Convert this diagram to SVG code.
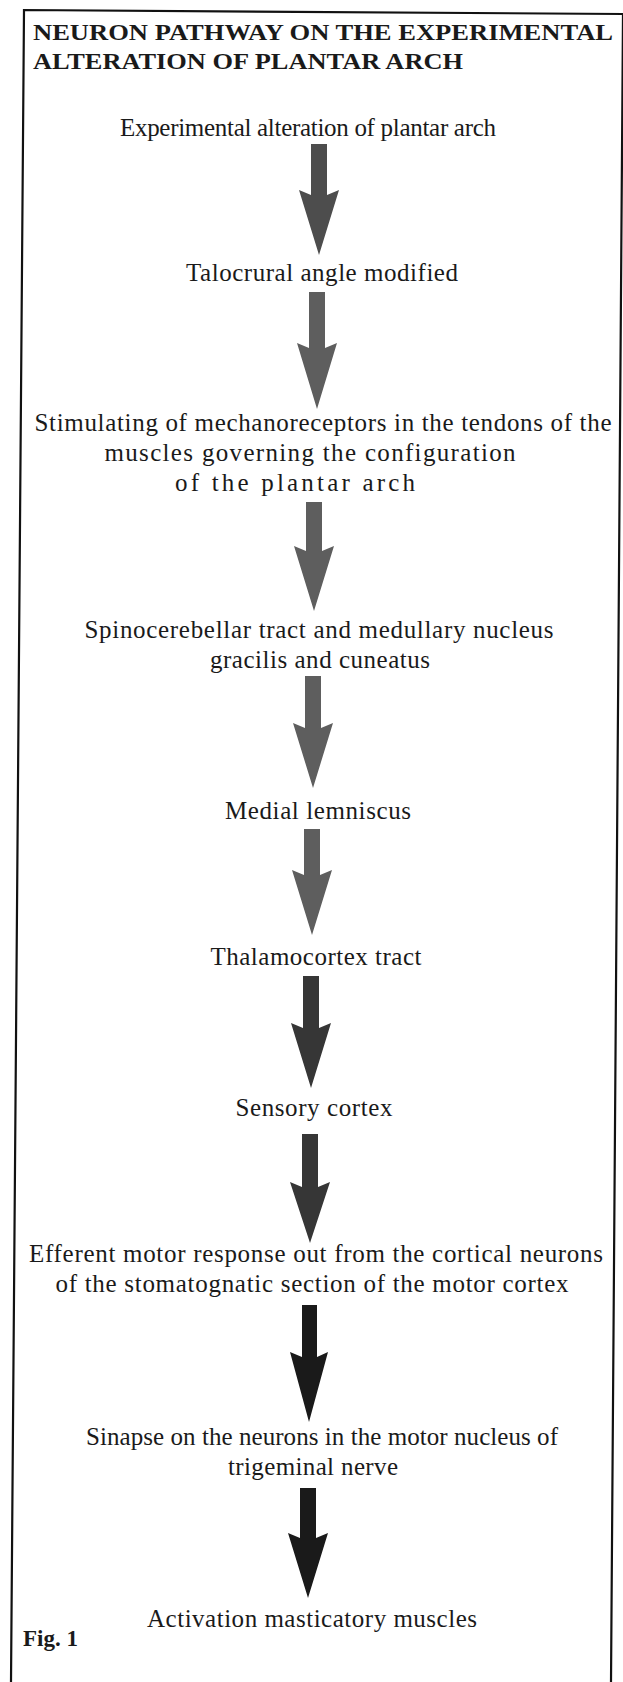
<svg xmlns="http://www.w3.org/2000/svg" width="623" height="1682" viewBox="0 0 623 1682">
<style>
.t{font-family:"Liberation Serif","Times New Roman",serif;font-size:25px;fill:#1a1a1a;text-anchor:middle}
.h{font-family:"Liberation Serif","Times New Roman",serif;font-size:23px;font-weight:bold;fill:#1a1a1a}
.a1{fill:#4d4d4d}
.a2{fill:#5e5e5e}
.a3{fill:#363636}
.a4{fill:#1a1a1a}
</style>
<rect width="623" height="1682" fill="#fff"/>
<path d="M11,1682 L24,10 L623,14 M611,1682 L623,14" fill="none" stroke="#111" stroke-width="2.2"/>
<g id="title">
<text class="h" x="33" y="40" textLength="580" lengthAdjust="spacingAndGlyphs">NEURON PATHWAY ON THE EXPERIMENTAL</text>
<text class="h" x="33" y="69" textLength="430" lengthAdjust="spacingAndGlyphs">ALTERATION OF PLANTAR ARCH</text>
</g>
<g id="n1"><text class="t" x="308" y="136" textLength="376">Experimental alteration of plantar arch</text></g>
<g id="n2"><text class="t" x="322" y="281" textLength="272">Talocrural angle modified</text></g>
<g id="n3">
<text class="t" x="323" y="431" textLength="577">Stimulating of mechanoreceptors in the tendons of the</text>
<text class="t" x="310" y="461" textLength="411">muscles governing the configuration</text>
<text class="t" x="295" y="491" textLength="240">of the plantar arch</text>
</g>
<g id="n4">
<text class="t" x="319" y="638" textLength="469">Spinocerebellar tract and medullary nucleus</text>
<text class="t" x="320" y="668" textLength="220">gracilis and cuneatus</text>
</g>
<g id="n5"><text class="t" x="318" y="819" textLength="186">Medial lemniscus</text></g>
<g id="n6"><text class="t" x="316" y="965" textLength="211">Thalamocortex tract</text></g>
<g id="n7"><text class="t" x="314" y="1116" textLength="157">Sensory cortex</text></g>
<g id="n8">
<text class="t" x="316" y="1262" textLength="574">Efferent motor response out from the cortical neurons</text>
<text class="t" x="312" y="1292" textLength="513">of the stomatognatic section of the motor cortex</text>
</g>
<g id="n9">
<text class="t" x="322" y="1445" textLength="472">Sinapse on the neurons in the motor nucleus of</text>
<text class="t" x="313" y="1475" textLength="170">trigeminal nerve</text>
</g>
<g id="n10"><text class="t" x="312" y="1627" textLength="330">Activation masticatory muscles</text></g>
<g id="fig"><text class="h" x="23" y="1646" style="font-size:23px">Fig. 1</text></g>
<g id="connectors">
<path class="a1" d="M311,144 H327 V195 L339,190 L319,255 L299,190 L311,195 Z"/>
<path class="a2" d="M309,292 H325 V348 L337,343 L317,409 L297,343 L309,348 Z"/>
<path class="a2" d="M306,502 H322 V551 L334,546 L314,611 L294,546 L306,551 Z"/>
<path class="a2" d="M305,676 H321 V728 L333,723 L313,788 L293,723 L305,728 Z"/>
<path class="a2" d="M304,829 H320 V875 L332,870 L312,935 L292,870 L304,875 Z"/>
<path class="a3" d="M303,976 H319 V1028 L331,1023 L311,1088 L291,1023 L303,1028 Z"/>
<path class="a3" d="M302,1134 H318 V1187 L330,1182 L310,1243 L290,1182 L302,1187 Z"/>
<path class="a4" d="M302,1305 H317 V1357 L328,1352 L309,1422 L290,1352 L302,1357 Z"/>
<path class="a4" d="M300,1488 H316 V1538 L328,1533 L308,1598 L288,1533 L300,1538 Z"/>
</g>
</svg>
